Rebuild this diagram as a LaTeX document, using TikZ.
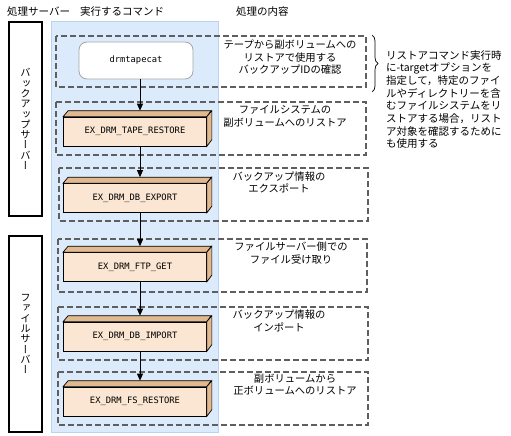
\documentclass[tikz,border=0pt]{standalone}
\usepackage{fontspec}
\setmainfont{Noto Sans CJK JP}
\newfontfamily\vjp[RawFeature=+vert]{Noto Sans CJK JP}
\newfontfamily\cmdfont{DejaVu Sans Mono}
\usetikzlibrary{arrows.meta,decorations.pathreplacing,calc}
\definecolor{bluebg}{RGB}{220,235,251}
\definecolor{blueline}{RGB}{185,212,240}
\definecolor{boxfront}{RGB}{250,230,210}
\definecolor{boxside}{RGB}{225,185,145}
\definecolor{dashgray}{RGB}{95,95,95}
\newcommand\drmcube[3]{%
  \node[cmdbox] (#1) at (135,#2) {#3};
  \draw[line width=0.7pt, fill=boxside] (#1.north west) -- ++(5,-6) -- ++(143,0) -- (#1.north east) -- cycle;
  \draw[line width=0.7pt, fill=boxside] (#1.north east) -- ++(5,-6) -- ++(0,29) -- (#1.south east) -- cycle;
  \coordinate (#1-top) at ($(#1.north)+(5,-6)$);
}
\begin{document}
\begin{tikzpicture}[x=1pt,y=-1pt,
  every node/.style={inner sep=0pt, font=\fontsize{10.5}{12.5}\selectfont},
  dashbox/.style={draw=dashgray, line width=1.1pt, dash pattern=on 6pt off 3pt},
  cmdbox/.style={draw=black, line width=0.7pt, fill=boxfront, minimum width=143pt, minimum height=29pt, font=\cmdfont\fontsize{8.8}{10}\selectfont},
  arr/.style={draw=black, line width=0.8pt, -{Triangle[length=7pt,width=6pt]}},
  lbl/.style={align=center, font=\fontsize{10.3}{12.5}\selectfont},
  srvbox/.style={draw=black, line width=1.2pt, fill=white, minimum width=33pt, align=center, font=\vjp\fontsize{10.3}{10.3}\selectfont},
  hdr/.style={anchor=west}
]
\useasboundingbox (0,0) rectangle (511,436);
% headers
\node[hdr] (h1) at (7,12) {処理サーバー};
\node[hdr] (h2) at (80,12) {実行するコマンド};
\node[hdr] (h3) at (236,12) {処理の内容};
% server boxes
\node[srvbox, minimum height=194pt] (bsrv) at (25.5,119) {バ\\ッ\\ク\\ア\\ッ\\プ\\サ\\ー\\バ\\ー};
\node[srvbox, minimum height=196pt] (fsrv) at (25.5,334) {フ\\ァ\\イ\\ル\\サ\\ー\\バ\\ー};
% blue region
\draw[fill=bluebg, draw=blueline, line width=1pt] (51,22) rectangle (218,432);
% dashed boxes
\draw[dashbox] (56,36) rectangle (366,87);
\draw[dashbox] (56,102) rectangle (366,155);
\draw[dashbox] (59,168) rectangle (368,221);
\draw[dashbox] (58,239) rectangle (367,292);
\draw[dashbox] (58,307) rectangle (368,360);
\draw[dashbox] (58,372) rectangle (368,425);
% command nodes
\node[draw=gray!70, line width=0.8pt, fill=white, rounded corners=8pt, minimum width=114pt, minimum height=37pt, font=\cmdfont\fontsize{8.8}{10}\selectfont] (drm) at (136,60.5) {drmtapecat};
\drmcube{tape}{131.5}{EX\_DRM\_TAPE\_RESTORE}
\drmcube{export}{198}{EX\_DRM\_DB\_EXPORT}
\drmcube{ftp}{267}{EX\_DRM\_FTP\_GET}
\drmcube{import}{336.5}{EX\_DRM\_DB\_IMPORT}
\drmcube{fs}{401.5}{EX\_DRM\_FS\_RESTORE}
% arrows
\draw[arr] (drm.south -| tape-top) -- (tape-top);
\draw[arr] (tape.south -| export-top) -- (export-top);
\draw[arr] (export.south -| ftp-top) -- (ftp-top);
\draw[arr] (ftp.south -| import-top) -- (import-top);
\draw[arr] (import.south -| fs-top) -- (fs-top);
% labels
\node[lbl] (l1) at (290,57.5) {テープから副ボリュームへの\\リストアで使用する\\バックアップIDの確認};
\node[lbl] (l2) at (285,116.5) {ファイルシステムの\\副ボリュームへのリストア};
\node[lbl] (l3) at (279,182.5) {バックアップ情報の\\エクスポート};
\node[lbl] (l4) at (291,253) {ファイルサーバー側での\\ファイル受け取り};
\node[lbl] (l5) at (279,321) {バックアップ情報の\\インポート};
\node[lbl] (l6) at (295,384.5) {副ボリュームから\\正ボリュームへのリストア};
% brace and note
\draw[line width=0.7pt, decorate, decoration={brace, amplitude=6pt}] (372,35) -- (372,92);
\node[anchor=north west, align=left, font=\fontsize{10.5}{12.7}\selectfont] (note) at (386,50) {リストアコマンド実行時\\に-targetオプションを\\指定して，特定のファイ\\ルやディレクトリーを含\\むファイルシステムをリ\\ストアする場合，リスト\\ア対象を確認するために\\も使用する};
\end{tikzpicture}
\end{document}
